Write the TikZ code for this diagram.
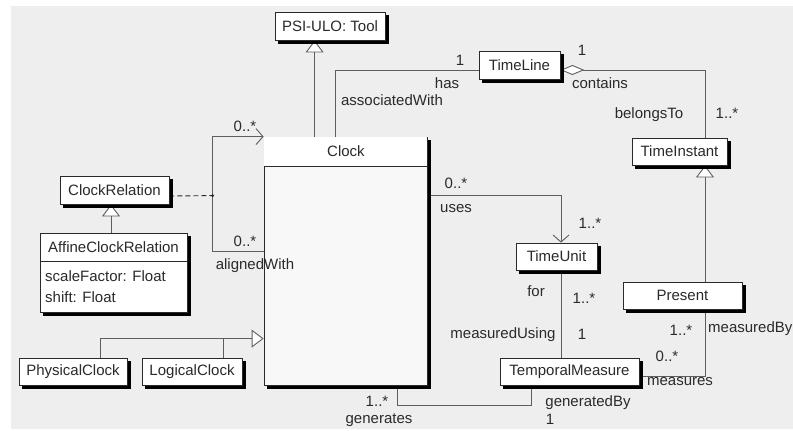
\documentclass[tikz,border=0pt]{standalone}
\usepackage{fontspec}
\setmainfont{Liberation Sans}
\usetikzlibrary{arrows.meta,calc}
\definecolor{bggray}{HTML}{EEEEEE}
\definecolor{ink}{HTML}{2A2A2A}
\definecolor{wire}{HTML}{5E5E5E}
\definecolor{bodyfill}{HTML}{F8F8F8}
\pgfdeclarelayer{back}\pgfdeclarelayer{bg}\pgfdeclarelayer{shad}
\pgfsetlayers{back,bg,shad,main}
\newcommand\boxshadow[1]{\begin{pgfonlayer}{shad}\fill[black] ([xshift=3.5pt,yshift=-3.5pt]#1.south west) rectangle ([xshift=3.5pt,yshift=-3.5pt]#1.north east);\end{pgfonlayer}}
\tikzset{
 cls/.style={draw=ink, line width=0.8pt, fill=white, inner sep=0pt,
   font=\fontsize{15}{18}\selectfont, text=ink},
 lbl/.style={font=\fontsize{15}{18}\selectfont, text=ink, inner sep=0pt},
 wirestyle/.style={draw=wire, line width=0.9pt},
 gen/.style={wirestyle, -{Triangle[length=12pt,width=18pt,fill=white]}},
 nav/.style={wirestyle, -{Straight Barb[length=7pt,width=16pt]}},
 agg/.style={wirestyle, {Diamond[length=24pt,width=10pt,fill=white]}-},
}
\begin{document}
\begin{tikzpicture}[x=1pt,y=-1pt]
\useasboundingbox (0,0) rectangle (793,431);
\begin{pgfonlayer}{back}
\fill[white] (0,0) rectangle (793,431);
\fill[bggray] (11,6) rectangle (793,429);
\end{pgfonlayer}

% classes
\node[cls, minimum width=110, minimum height=28] (psi) at (330,26) {PSI-ULO: Tool};
\node[cls, fill=bodyfill, minimum width=163, minimum height=248] (clock) at (345.5,261) {};
\fill[white] ([xshift=0.4pt,yshift=-0.4pt]clock.north west) rectangle ([xshift=-0.4pt,yshift=-30pt]clock.north east);
\draw[ink, line width=0.8pt] ([yshift=-30pt]clock.north west) -- ([yshift=-30pt]clock.north east);
\node[lbl] (clocktitle) at (346,151) {Clock};
\node[cls, minimum width=81, minimum height=28] (timeline) at (519.5,65) {TimeLine};
\node[cls, minimum width=95, minimum height=27] (tinstant) at (679.5,151.5) {TimeInstant};
\node[cls, minimum width=119, minimum height=27] (present) at (682.5,295.5) {Present};
\node[cls, minimum width=81, minimum height=27] (tunit) at (556.5,256.5) {TimeUnit};
\node[cls, minimum width=139, minimum height=27] (tmeasure) at (569.5,371.5) {TemporalMeasure};
\node[cls, minimum width=109, minimum height=28] (crel) at (114.5,190) {ClockRelation};
\node[cls, minimum width=147, minimum height=79] (affine) at (113.5,272.5) {};
\draw[ink, line width=0.8pt] ([yshift=-29pt]affine.north west) -- ([yshift=-29pt]affine.north east);
\node[lbl] (affinetitle) at (113.5,247) {AffineClockRelation};
\node[lbl, anchor=west] (attr1) at (45,276) {scaleFactor: Float};
\node[lbl, anchor=west] (attr2) at (45,297) {shift: Float};
\node[cls, minimum width=108, minimum height=27] (phys) at (73,371.5) {PhysicalClock};
\node[cls, minimum width=100, minimum height=27] (logic) at (192,371.5) {LogicalClock};

\boxshadow{psi}\boxshadow{clock}\boxshadow{timeline}\boxshadow{tinstant}
\boxshadow{present}\boxshadow{tunit}\boxshadow{tmeasure}\boxshadow{crel}
\boxshadow{affine}\boxshadow{phys}\boxshadow{logic}

\coordinate (aj) at ([xshift=-51pt,yshift=-59pt]clock.north west);
\coordinate (gj) at ([yshift=-202pt]clock.north west);

% connectors
\begin{pgfonlayer}{bg}
\draw[gen] ([xshift=51pt]clock.north west) -- ([xshift=40pt]psi.south west);
\draw[wirestyle] ([xshift=72pt]clock.north west) |- ([yshift=-5pt]timeline.west);
\draw[agg] ([yshift=-5pt]timeline.east) -| ([xshift=25.5pt]tinstant.north);
\draw[gen] ([xshift=22.5pt]present.north) -- ([xshift=25.5pt]tinstant.south);
\draw[wirestyle] ([xshift=22.5pt]present.south) |- ([yshift=-4.5pt]tmeasure.east);
\draw[nav] ([yshift=-59pt]clock.north east) -| ([xshift=4.5pt]tunit.north);
\draw[wirestyle] ([xshift=4.5pt]tunit.south) -- ([xshift=4.5pt]tunit.south |- tmeasure.north);
\draw[wirestyle] ([xshift=134pt]clock.south west) |- ($([xshift=-38.5pt]tmeasure.south)+(0,20)$) -- ([xshift=-38.5pt]tmeasure.south);
\draw[nav] ([yshift=-115pt]clock.north west) -- ++(-51,0) |- (clock.north west);
\draw[ink, line width=0.9pt, dash pattern=on 5pt off 3pt] ([yshift=-6pt]crel.east) -- (aj);
\fill[ink] (aj) circle (1.6);
\draw[gen] ([xshift=-2.5pt]affine.north) -- ([xshift=-2.5pt]affine.north |- crel.south);
\draw[gen] ([xshift=27pt]phys.north) |- (gj);
\draw[wirestyle] ([xshift=31pt]logic.north) -- ([xshift=31pt]logic.north |- gj);
\end{pgfonlayer}

% labels
\node[lbl] (l1) at (460,60) {1};
\node[lbl] (l2) at (447,83) {has};
\node[lbl] (l3) at (392,100) {associatedWith};
\node[lbl] (l4) at (582,50) {1};
\node[lbl] (l5) at (600,83) {contains};
\node[lbl] (l6) at (649,115) {belongsTo};
\node[lbl] (l7) at (727,113) {1..*};
\node[lbl] (l8) at (456,183) {0..*};
\node[lbl] (l9) at (456,209) {uses};
\node[lbl] (l10) at (590,223) {1..*};
\node[lbl] (l11) at (536,291) {for};
\node[lbl] (l12) at (584,298) {1..*};
\node[lbl] (l13) at (503,335) {measuredUsing};
\node[lbl] (l14) at (582,334) {1};
\node[lbl] (l15) at (681,330) {1..*};
\node[lbl, anchor=west] (l16) at (708,329) {measuredBy};
\node[lbl] (l17) at (667,356) {0..*};
\node[lbl] (l18) at (680,382) {measures};
\node[lbl] (l19) at (588,403) {generatedBy};
\node[lbl] (l20) at (550,419) {1};
\node[lbl] (l21) at (377,401) {1..*};
\node[lbl] (l22) at (379,420) {generates};
\node[lbl] (l23) at (245,126) {0..*};
\node[lbl] (l24) at (245,241) {0..*};
\node[lbl] (l25) at (255,266) {alignedWith};
\end{tikzpicture}
\end{document}
